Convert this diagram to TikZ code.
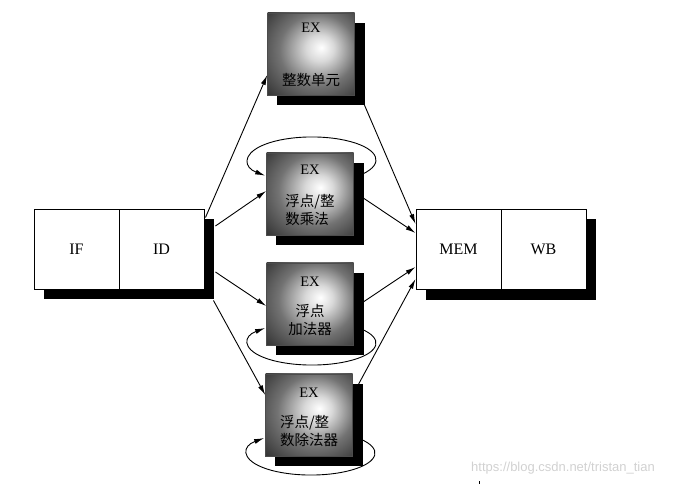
\documentclass[tikz,border=0pt]{standalone}
\usepackage{fontspec}
\setmainfont{Liberation Serif}
\newfontfamily\cjk{Noto Sans CJK SC}
\newfontfamily\wmfont{Liberation Sans}
\usetikzlibrary{calc,arrows.meta,backgrounds}
\pgfdeclareradialshading{exshade}{\pgfpoint{6bp}{4bp}}{color(0bp)=(white); color(8bp)=(black!15); color(22bp)=(black!55); color(38bp)=(black!80); color(60bp)=(black!92)}
\begin{document}
\begin{tikzpicture}[x=1pt,y=-1pt,
  stagebox/.style={draw=black, line width=0.9pt, fill=white, minimum width=85pt, minimum height=80pt, inner sep=0pt, font=\fontsize{16}{16}\selectfont},
  exbox/.style={draw=black!70, line width=0.5pt, shading=exshade, minimum width=87pt, minimum height=82pt, inner sep=0pt},
  extext/.style={font=\fontsize{14.5}{14.5}\selectfont, inner sep=0pt},
  cjktext/.style={font=\cjk\fontsize{14.5}{18}\selectfont, inner sep=0pt},
  arr/.style={line width=0.9pt, -{Latex[length=10pt,width=5pt]}},
  loop/.style={line width=0.9pt, -{Latex[length=10pt,width=5pt]}}]
\useasboundingbox (0,0) rectangle (683,486);
% stage boxes
\node[stagebox] (if) at (76.5,249) {IF};
\node[stagebox] (id) at (161.5,249) {ID};
\node[stagebox] (mem) at (458.5,249.5) {MEM};
\node[stagebox] (wb) at (543.5,249.5) {WB};
% EX boxes
\node[exbox] (ex1) at (311,54) {};
\node[exbox] (ex2) at (310,194) {};
\node[exbox] (ex3) at (310,304) {};
\node[exbox] (ex4) at (309,415) {};
% shadows
\begin{pgfonlayer}{background}
\fill[black] ($(if.north west)+(10,10)$) rectangle ($(id.south east)+(10,10)$);
\fill[black] ($(mem.north west)+(10,10)$) rectangle ($(wb.south east)+(10,10)$);
\fill[black] ($(ex1.north west)+(10,10)$) rectangle ($(ex1.south east)+(10,10)$);
\fill[black] ($(ex2.north west)+(10,10)$) rectangle ($(ex2.south east)+(10,10)$);
\fill[black] ($(ex3.north west)+(10,10)$) rectangle ($(ex3.south east)+(10,10)$);
\fill[black] ($(ex4.north west)+(10,10)$) rectangle ($(ex4.south east)+(10,10)$);
\end{pgfonlayer}
% labels
\node[extext] (ex1l) at ($(ex1.center)+(0,-26)$) {EX};
\node[cjktext] (ex1c) at ($(ex1.center)+(0,26)$) {整数单元};
\node[extext] (ex2l) at ($(ex2.center)+(0,-24)$) {EX};
\node[cjktext, align=left] (ex2c) at ($(ex2.center)+(0,16)$) {浮点/整\\数乘法};
\node[extext] (ex3l) at ($(ex3.center)+(0,-22)$) {EX};
\node[cjktext, align=center] (ex3c) at ($(ex3.center)+(0,16)$) {浮点\\加法器};
\node[extext] (ex4l) at ($(ex4.center)+(0,-22)$) {EX};
\node[cjktext, align=left] (ex4c) at ($(ex4.center)+(0,16)$) {浮点/整\\数除法器};
% ID -> EX
\draw[arr] ($(id.north east)+(1,9)$) -- ($(ex1.west)+(0,21)$);
\draw[arr] ($(id.east)+(11,-23)$) -- ($(ex2.west)+(0,-3)$);
\draw[arr] ($(id.east)+(11,23)$) -- ($(ex3.west)+(0,2)$);
\draw[arr] ($(id.south east)+(9,11)$) -- ($(ex4.west)+(0,-20)$);
% EX -> MEM
\draw[arr] ($(ex1.south east)+(8.5,7)$) -- ($(mem.west)+(0,-25.5)$);
\draw[arr] ($(ex2.east)+(9.5,4)$) -- ($(mem.west)+(0,-16.5)$);
\draw[arr] ($(ex3.east)+(9.5,-2)$) -- ($(mem.west)+(0,17.5)$);
\draw[arr] ($(ex4.north east)+(5.5,11)$) -- ($(mem.west)+(0,29.5)$);
% loops
\draw[loop] ($(ex2.center)+(53.1,-20.2)$) arc[start angle=37, end angle=-223, x radius=64, y radius=23];
\draw[loop] ($(ex3.center)+(51,24.9)$) arc[start angle=-40, end angle=223, x radius=64, y radius=22];
\draw[loop] ($(ex4.center)+(51,23.9)$) arc[start angle=-40, end angle=223, x radius=64, y radius=22];
% watermark
\node[font=\wmfont\fontsize{13}{13}\selectfont, text=black!18, inner sep=0pt] (wm) at (563,468) {https://blog.csdn.net/tristan\_tian};
\fill[black] (478.6,481) rectangle (479.6,484);
\end{tikzpicture}
\end{document}
